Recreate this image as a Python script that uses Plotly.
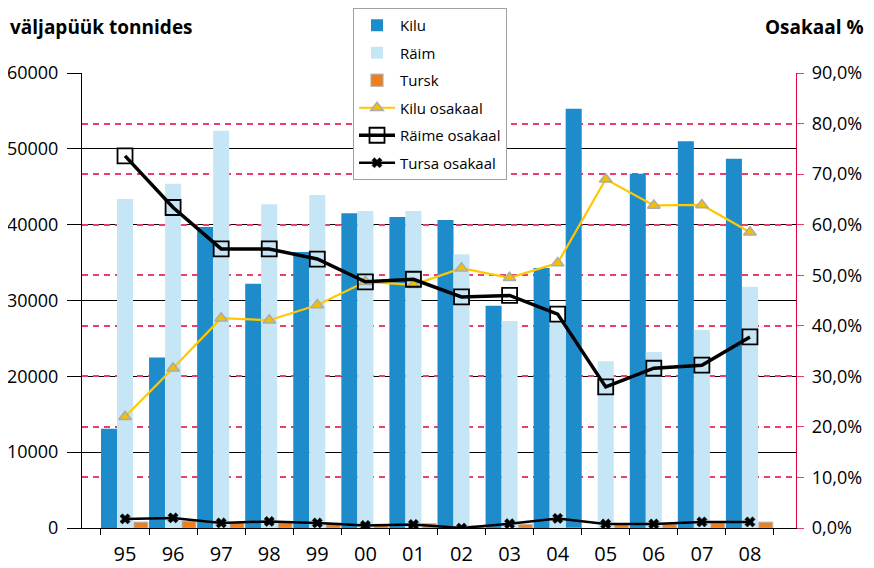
import plotly.graph_objects as go

years = ["95", "96", "97", "98", "99", "00", "01", "02", "03", "04", "05", "06", "07", "08"]

kilu = [13100, 22500, 39700, 32200, 36400, 41500, 41000, 40600, 29300, 34300, 55300, 46700, 51000, 48700]
raim = [43400, 45400, 52400, 42700, 43900, 41800, 41800, 36100, 27300, 27200, 22000, 23200, 26100, 31800]
tursk = [750, 900, 700, 750, 650, 450, 550, 250, 450, 0, 500, 550, 650, 750]

kilu_osakaal = [22.0, 31.6, 41.5, 41.1, 44.1, 48.7, 48.1, 51.4, 49.5, 52.4, 69.0, 63.8, 63.9, 58.5]
raime_osakaal = [73.6, 63.4, 55.2, 55.2, 53.2, 48.7, 49.2, 45.7, 46.0, 42.3, 27.9, 31.6, 32.2, 37.8]
tursa_osakaal = [1.8, 2.0, 1.0, 1.3, 1.0, 0.5, 0.7, 0.0, 0.85, 1.9, 0.8, 0.8, 1.2, 1.2]

# slot offsets inside each category (the 2005 Kilu bar sits one slot to the left in the original)
kilu_offsets = [-0.5] * len(years)
kilu_offsets[years.index("05")] = -0.5 - 1/3

FONT = "Open Sans"
PAGE_OFF = 8  # page body margin in the browser
W, H = 874 - PAGE_OFF, 568 - PAGE_OFF
L, T = 82 - PAGE_OFF, 73 - PAGE_OFF
PW, PH = 714, 455

fig = go.Figure()

fig.add_trace(go.Bar(x=years, y=kilu, name="Kilu", width=1/3, offset=kilu_offsets, legendgroup="g1",
                     marker=dict(color="#1E8CCB", line=dict(width=0)), legendrank=1))
fig.add_trace(go.Bar(x=years, y=raim, name="Räim", width=1/3, offset=-1/6, legendgroup="g2",
                     marker=dict(color="#C6E6F6", line=dict(width=0)), legendrank=2))
fig.add_trace(go.Bar(x=years, y=tursk, name="Tursk", width=1/3 * 0.85, offset=1/6 + 0.02, legendgroup="g3",
                     marker=dict(color="#EE7F1F", line=dict(width=1.5, color="rgba(170,170,170,0.7)")),
                     legendrank=3))

fig.add_trace(go.Scatter(x=years, y=kilu_osakaal, name="Kilu osakaal", yaxis="y2", mode="lines+markers",
                         legendgroup="g4", line=dict(color="#FFC800", width=2.2),
                         marker=dict(symbol="triangle-up", size=11, color="#F2C000",
                                     line=dict(color="#ABABAB", width=1.5)), legendrank=4))
fig.add_trace(go.Scatter(x=years, y=raime_osakaal, name="Räime osakaal", yaxis="y2", mode="lines+markers",
                         legendgroup="g5", line=dict(color="black", width=3.5),
                         marker=dict(symbol="square-open", size=15, color="black",
                                     line=dict(color="black", width=1.8)), legendrank=5))
fig.add_trace(go.Scatter(x=years, y=tursa_osakaal, name="Tursa osakaal", yaxis="y2", mode="lines+markers",
                         legendgroup="g6", line=dict(color="black", width=2.5),
                         marker=dict(symbol="x", size=9, color="black",
                                     line=dict(color="black", width=0.5)), legendrank=6))

fig.update_layout(
    width=W, height=H,
    margin=dict(l=L, r=W - L - PW, t=T, b=H - T - PH, autoexpand=False),
    paper_bgcolor="white", plot_bgcolor="white",
    barmode="overlay",
    separators=",.",
    font=dict(family=FONT, size=18, color="black"),
    showlegend=True,
    legend=dict(x=(353 - 82) / PW, y=(528 - 8) / PH, xanchor="left", yanchor="top",
                bgcolor="white", bordercolor="#A0A0A0", borderwidth=1,
                font=dict(family=FONT, size=15), tracegroupgap=5, itemwidth=36,
                traceorder="grouped"),
    xaxis=dict(type="category", categoryorder="array", categoryarray=years,
               range=[-0.895, 13.958], tickson="boundaries", ticks="outside", ticklen=6,
               tickcolor="black", showline=True, linecolor="black", linewidth=1,
               showgrid=False, zeroline=False, tickfont=dict(size=20), ticklabelstandoff=8),
    yaxis=dict(range=[0, 60000], dtick=10000, tickformat="d", showline=True,
               linecolor="black", linewidth=1, ticks="outside", ticklen=14, tickcolor="black",
               showgrid=True, gridcolor="black", gridwidth=1, zeroline=False,
               tickfont=dict(size=18), ticklabelstandoff=5),
    yaxis2=dict(range=[0, 90], dtick=10, overlaying="y", side="right", tickformat=".1f",
                ticksuffix="%", showline=True, linecolor="#E0003C", linewidth=1.2,
                ticks="outside", ticklen=7, tickcolor="#E8406A",
                showgrid=True, gridcolor="#E8406A", gridwidth=1.5, griddash="6px,5px",
                zeroline=False, tickfont=dict(size=18), ticklabelstandoff=4),
    annotations=[
        dict(text="<b>väljapüük tonnides</b>", xref="paper", yref="paper",
             x=(8 - 82) / PW, y=(528 - 27) / PH, xanchor="left", yanchor="middle",
             showarrow=False, font=dict(size=19, family=FONT)),
        dict(text="<b>Osakaal %</b>", xref="paper", yref="paper",
             x=(866 - 82) / PW, y=(528 - 27) / PH, xanchor="right", yanchor="middle",
             showarrow=False, font=dict(size=19, family=FONT)),
    ],
)

fig.write_html("out.html")
